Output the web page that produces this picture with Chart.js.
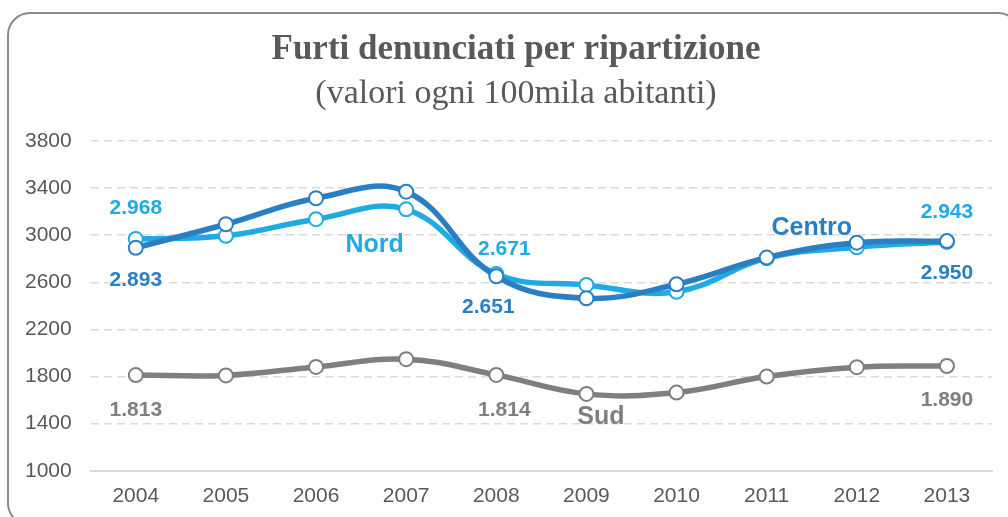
<!DOCTYPE html>
<html>
<head>
<meta charset="utf-8">
<script src="https://cdn.jsdelivr.net/npm/chart.js@4"></script>
<style>
  html, body { margin: 0; padding: 0; background: #ffffff; }
  #wrap { position: relative; width: 1008px; height: 517px; }
</style>
</head>
<body>
<div id="wrap"><canvas id="c"></canvas></div>
<script>
// ---- data ----
const years = ['2004','2005','2006','2007','2008','2009','2010','2011','2012','2013'];
const centro = [2893, 3093, 3314, 3370, 2651, 2465, 2584, 2810, 2937, 2950];
const nord   = [2968, 2995, 3136, 3220, 2671, 2578, 2520, 2805, 2898, 2943];
const sud    = [1813, 1810, 1882, 1948, 1814, 1653, 1664, 1800, 1880, 1890];
const yTicks = [1000, 1400, 1800, 2200, 2600, 3000, 3400, 3800];
const seriesNames = ['Centro', 'Nord', 'Sud'];
const titleText = 'Furti denunciati per ripartizione';
const subtitleText = '(valori ogni 100mila abitanti)';

const C_DARK = '#2A7EC2';
const C_LIGHT = '#21AAE2';
const C_GREY = '#7F7F7F';
const C_TEXT = '#595959';

function fmtIt(v) {
  const s = String(Math.round(v));
  return s.replace(/\B(?=(\d{3})+(?!\d))/g, '.');
}

// value labels: [datasetIndex, dataIndex, dx, dy]
const valueLabels = [
  [1, 0, 0, -31], [0, 0, 0, 32],
  [1, 4, 8, -25], [0, 4, -8, 31],
  [1, 9, 0, -30], [0, 9, 0, 32],
  [2, 0, 0, 35], [2, 4, 8, 35], [2, 9, 0, 34]
];
// series name labels placed in data coordinates: [datasetIndex, xIndex, yValue]
const nameLabels = [
  [1, 2.65, 2918],
  [0, 7.5, 3062],
  [2, 5.16, 1458]
];

const labelsPlugin = {
  id: 'labelsPlugin',
  afterDatasetsDraw(chart) {
    const ctx = chart.ctx;
    const xs = chart.scales.x, ys = chart.scales.y;
    ctx.save();
    ctx.textAlign = 'center';
    ctx.textBaseline = 'middle';
    ctx.font = 'bold 21px "Liberation Sans", Arial, sans-serif';
    valueLabels.forEach(([di, i, dx, dy]) => {
      const ds = chart.data.datasets[di];
      const v = ds.data[i];
      ctx.fillStyle = ds.borderColor;
      ctx.fillText(fmtIt(v), xs.getPixelForValue(i) + dx, ys.getPixelForValue(v) + dy);
    });
    ctx.font = 'bold 25px "Liberation Sans", Arial, sans-serif';
    nameLabels.forEach(([di, xi, yv]) => {
      const ds = chart.data.datasets[di];
      ctx.fillStyle = ds.borderColor;
      const x0 = xs.getPixelForValue(Math.floor(xi));
      const x1 = xs.getPixelForValue(Math.floor(xi) + 1);
      const x = x0 + (x1 - x0) * (xi - Math.floor(xi));
      ctx.fillText(ds.label, x, ys.getPixelForValue(yv));
    });
    ctx.restore();
  }
};

const framePlugin = {
  id: 'framePlugin',
  beforeDraw(chart) {
    const ctx = chart.ctx;
    ctx.save();
    ctx.fillStyle = '#ffffff';
    ctx.fillRect(0, 0, chart.width, chart.height);
    ctx.strokeStyle = '#8a8a8a';
    ctx.lineWidth = 2;
    const x = 8, y = 13, w = 1012, h = 512, r = 22;
    ctx.beginPath();
    ctx.moveTo(x + r, y);
    ctx.lineTo(x + w - r, y);
    ctx.arcTo(x + w, y, x + w, y + r, r);
    ctx.lineTo(x + w, y + h - r);
    ctx.arcTo(x + w, y + h, x + w - r, y + h, r);
    ctx.lineTo(x + r, y + h);
    ctx.arcTo(x, y + h, x, y + h - r, r);
    ctx.lineTo(x, y + r);
    ctx.arcTo(x, y, x + r, y, r);
    ctx.closePath();
    ctx.stroke();
    // titles
    ctx.fillStyle = C_TEXT;
    ctx.textAlign = 'center';
    ctx.textBaseline = 'middle';
    ctx.font = 'bold 35px "Liberation Serif", serif';
    ctx.fillText(titleText, 516, 50);
    ctx.font = '34px "Liberation Serif", serif';
    ctx.fillText(subtitleText, 516, 94);
    ctx.restore();
  }
};

function ds(label, data, color) {
  return {
    label, data,
    borderColor: color,
    backgroundColor: '#ffffff',
    borderWidth: 5.5,
    tension: 0.4,
    pointRadius: 7,
    pointHoverRadius: 7,
    pointBackgroundColor: '#ffffff',
    pointBorderColor: color,
    pointBorderWidth: 2,
    fill: false
  };
}

new Chart(document.getElementById('c'), {
  type: 'line',
  data: {
    labels: years,
    datasets: [
      ds(seriesNames[0], centro, C_DARK),
      ds(seriesNames[1], nord, C_LIGHT),
      ds(seriesNames[2], sud, C_GREY)
    ]
  },
  options: {
    responsive: true,
    maintainAspectRatio: false,
    animation: false,
    devicePixelRatio: 1,
    layout: { padding: { left: 6, right: 16, top: 141, bottom: -5 } },
    plugins: {
      legend: { display: false },
      tooltip: { enabled: false },
      title: { display: false },
      subtitle: { display: false }
    },
    scales: {
      x: {
        offset: true,
        grid: { display: false, drawTicks: false },
        border: { display: true, color: '#d9d9d9', width: 2 },
        ticks: { color: C_TEXT, padding: 13, font: { family: '"Liberation Sans", Arial, sans-serif', size: 21 } }
      },
      y: {
        min: 1000, max: 3800,
        afterBuildTicks(scale) { scale.ticks = yTicks.map(v => ({ value: v })); },
        grid: { color: '#d9d9d9', lineWidth: 1.5, drawTicks: false },
        border: { display: false, dash: [8, 5] },
        ticks: {
          color: C_TEXT, padding: 19,
          font: { family: '"Liberation Sans", Arial, sans-serif', size: 21 },
          callback: (v) => String(v)
        }
      }
    }
  },
  plugins: [framePlugin, labelsPlugin]
});
</script>
</body>
</html>
